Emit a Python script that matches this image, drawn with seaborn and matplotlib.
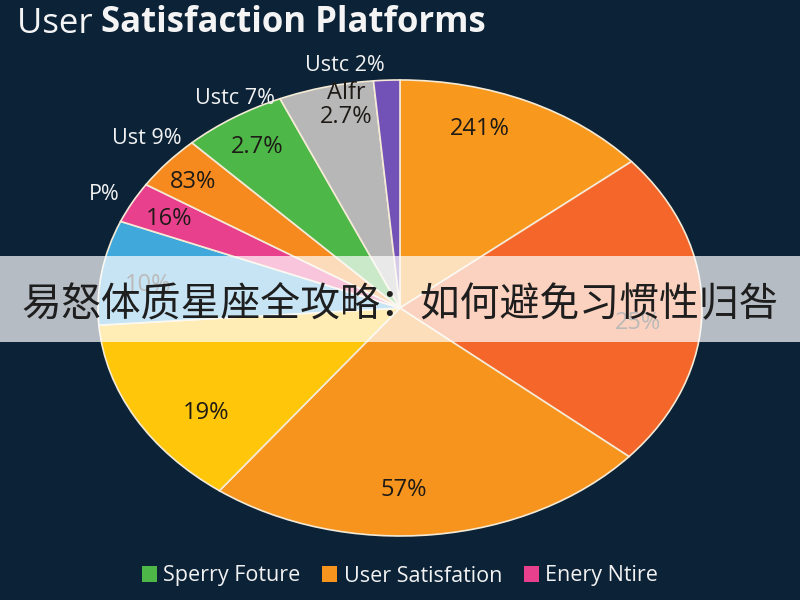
import numpy as np
import matplotlib
matplotlib.use("Agg")
import matplotlib.pyplot as plt
from matplotlib.patches import Patch, Rectangle
import seaborn as sns

# slice shares (clockwise from 12 o'clock)
shares = [13.9, 22.4, 23.9, 13.6, 7.4, 2.9, 3.8, 5.6, 5.1, 1.4]
inner_labels = ["241%", "25%", "57%", "19%", "10%", "16%", "83%", "2.7%", "Alfr\n2.7%", ""]
outer_labels = ["", "", "", "", "", "P%", "Ust 9%", "Ustc 7%", "Ustc 2%", ""]
slice_colors = ["#F8991D", "#F4662A", "#F7941D", "#FFC60A", "#41A8DC",
                "#E8408D", "#F68A1F", "#4DB848", "#B7B7B7", "#7352B8"]

legend_labels = ["Sperry Foture", "User Satisfation", "Enery Ntire"]
legend_colors = ["#4DB848", "#F7941D", "#E8408D"]

title_light = "User "
title_bold = "Satisfaction Platforms"
banner_text = "易怒体质星座全攻略：如何避免习惯性归咎"

bg = "#0B2237"
sns.set_theme(style="dark", rc={"axes.facecolor": bg, "figure.facecolor": bg})
plt.rcParams["font.family"] = ["Open Sans", "Noto Sans CJK SC", "DejaVu Sans"]

fig = plt.figure(figsize=(8, 6), dpi=100)

# pie is drawn slightly stretched (ellipse) like the reference
ax = fig.add_axes([0.1225, 0.1067, 0.755, 0.76])
wedges, _ = ax.pie(shares, colors=slice_colors, startangle=90, counterclock=False,
                   radius=1, wedgeprops=dict(edgecolor="#F4EAD6", linewidth=1.2))
ax.set_aspect("auto")
ax.set_xlim(-1, 1)
ax.set_ylim(-1, 1)
ax.axis("off")

# label placement tweaks (radius, angle shift in degrees)
inner_r = [0.83, 0.79, 0.80, 0.79, 0.84, 0.86, 0.88, 0.85, 0.91, 0.8]
inner_shift = [6.4, -4.5, -5.4, 7.0, 2.0, 0.5, 0.6, 0.4, -2.9, 0]
outer_r = [1.1, 1.1, 1.1, 1.1, 1.1, 1.10, 1.12, 1.07, 1.08, 1.1]
outer_shift = [0, 0, 0, 0, 0, 0.6, -1.9, -2.8, -4.5, 0]

for i, w in enumerate(wedges):
    mid = (w.theta1 + w.theta2) / 2
    if inner_labels[i]:
        a = np.deg2rad(mid + inner_shift[i])
        ax.text(inner_r[i] * np.cos(a), inner_r[i] * np.sin(a), inner_labels[i],
                ha="center", va="center", fontsize=17, color="#1E1A16",
                linespacing=1.0)
    if outer_labels[i]:
        a = np.deg2rad(mid + outer_shift[i])
        ax.text(outer_r[i] * np.cos(a), outer_r[i] * np.sin(a), outer_labels[i],
                ha="center", va="center", fontsize=15.5, color="#F2F2F2")

# title: light "User" + bold rest
t1 = fig.text(0.021, 0.945, title_light, fontsize=25, color="#F4F4F4",
              ha="left", va="baseline")
ax.annotate(title_bold, xy=(1, 0), xycoords=t1, fontsize=25, fontweight="bold",
            color="#F4F4F4", ha="left", va="bottom", annotation_clip=False)

# legend
handles = [Patch(facecolor=c, edgecolor="none") for c in legend_colors]
fig.legend(handles, legend_labels, loc="center", bbox_to_anchor=(0.5, 1 - 576 / 600),
           ncol=3, frameon=False, fontsize=15.5, labelcolor="#F2F2F2",
           handlelength=0.7, handleheight=0.7, handletextpad=0.3, columnspacing=1.0)

# translucent banner on top
over = fig.add_axes([0, 0, 1, 1], zorder=10)
over.set_xlim(0, 800)
over.set_ylim(600, 0)
over.axis("off")
over.patch.set_alpha(0)
over.add_patch(Rectangle((0, 256), 800, 86, facecolor="white", alpha=0.7, edgecolor="none"))
over.text(400, 305, banner_text, ha="center", va="center", fontsize=28.7, color="#1E1E1E",
          family=["Noto Sans CJK SC", "DejaVu Sans"])

fig.savefig("out.png", dpi=100, facecolor=bg)
